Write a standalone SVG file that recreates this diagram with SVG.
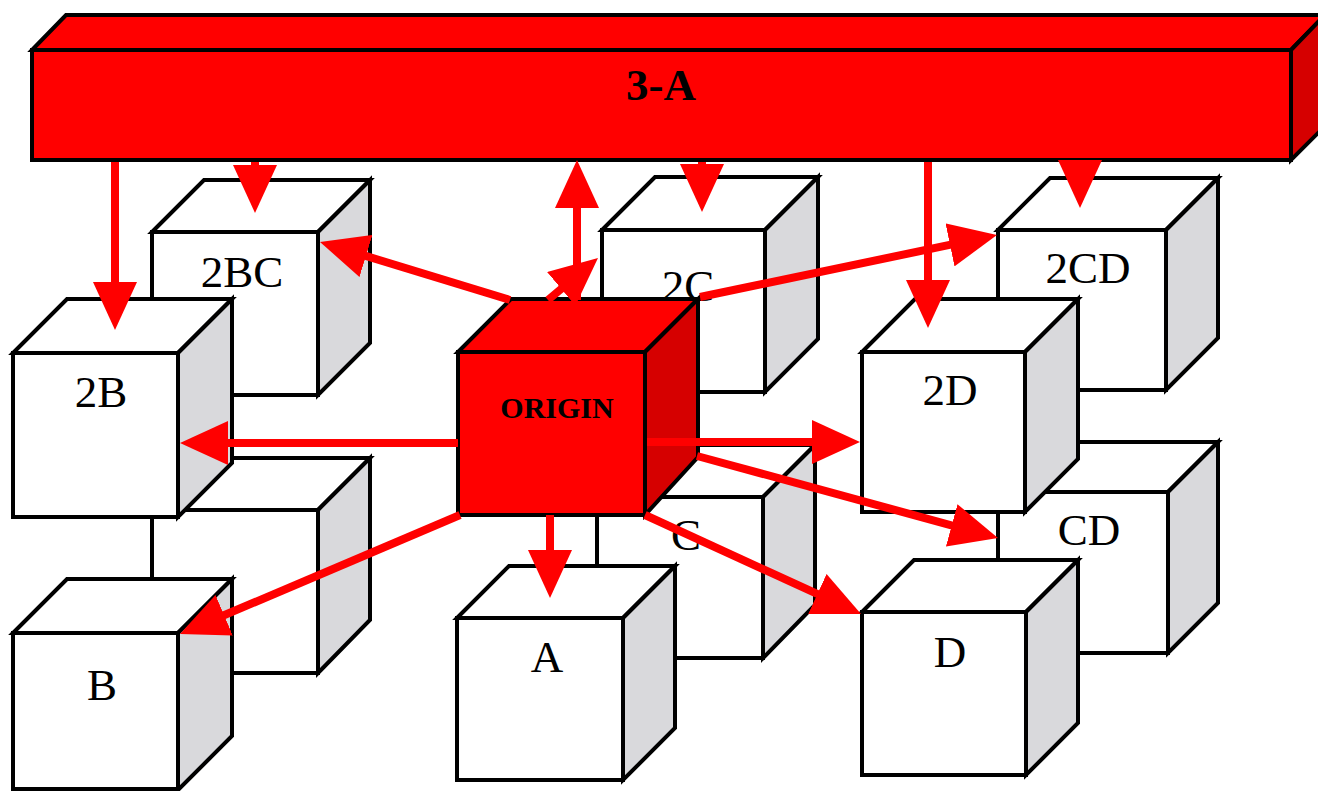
<svg xmlns="http://www.w3.org/2000/svg" width="1318" height="791" viewBox="0 0 1318 791">
<style>
.e{stroke:#000;stroke-width:4;stroke-linejoin:miter}
.wf{fill:#fff}
.gf{fill:#d9d9dc}
.rf{fill:#ff0000}
.rd{fill:#d60000}
.lbl{font-family:"Liberation Serif","Times New Roman",serif;font-size:45px;fill:#000;text-anchor:middle}
.bl{font-weight:bold}
.ar{stroke:#ff0000;stroke-width:8;fill:none;marker-end:url(#ah)}
</style>
<defs>
<marker id="ah" viewBox="0 0 48 44" refX="13" refY="22" markerWidth="48" markerHeight="44" markerUnits="userSpaceOnUse" orient="auto">
<path d="M0,0 L48,22 L0,44 z" fill="#ff0000"/>
</marker>
</defs>
<rect width="1318" height="791" fill="#fff"/>

<g id="bar-3A">
<polygon class="e rf" points="32,50 66,15 1325,15 1291,50"/>
<polygon class="e rd" points="1291,50 1325,15 1325,126 1291,160"/>
<rect class="e rf" x="32" y="50" width="1259" height="110"/>
<text class="lbl bl" x="661" y="100">3-A</text>
</g>

<g id="cube-2BC">
<polygon class="e wf" points="152,232 204,180 370,180 318,232"/>
<polygon class="e gf" points="318,232 370,180 370,343 318,395"/>
<rect class="e wf" x="152" y="232" width="166" height="163"/>
<text class="lbl" x="242" y="287">2BC</text>
</g>
<g id="cube-2C">
<polygon class="e wf" points="602,230 655,177 818,177 765,230"/>
<polygon class="e gf" points="765,230 818,177 818,339 765,392"/>
<rect class="e wf" x="602" y="230" width="163" height="162"/>
<text class="lbl" x="688" y="301">2C</text>
</g>
<g id="cube-2CD">
<polygon class="e wf" points="998,230 1050,178 1218,178 1166,230"/>
<polygon class="e gf" points="1166,230 1218,178 1218,338 1166,390"/>
<rect class="e wf" x="998" y="230" width="168" height="160"/>
<text class="lbl" x="1088" y="283">2CD</text>
</g>

<g id="cube-BC">
<polygon class="e wf" points="152,510 204,458 370,458 318,510"/>
<polygon class="e gf" points="318,510 370,458 370,620 318,673"/>
<rect class="e wf" x="152" y="510" width="166" height="163"/>
</g>
<g id="cube-C">
<polygon class="e wf" points="597,497 649,445 815,445 763,497"/>
<polygon class="e gf" points="763,497 815,445 815,605 763,658"/>
<rect class="e wf" x="597" y="497" width="166" height="161"/>
<text class="lbl" x="686" y="550">C</text>
</g>
<g id="cube-CD">
<polygon class="e wf" points="998,492 1048,442 1218,442 1168,492"/>
<polygon class="e gf" points="1168,492 1218,442 1218,603 1168,653"/>
<rect class="e wf" x="998" y="492" width="170" height="161"/>
<text class="lbl" x="1089" y="545">CD</text>
</g>

<g id="cube-2B">
<polygon class="e wf" points="13,353 67,299 232,299 178,353"/>
<polygon class="e gf" points="178,353 232,299 232,463 178,517"/>
<rect class="e wf" x="13" y="353" width="165" height="164"/>
<text class="lbl" x="101" y="407">2B</text>
</g>
<g id="cube-B">
<polygon class="e wf" points="13,633 67,579 232,579 178,633"/>
<polygon class="e gf" points="178,633 232,579 232,736 178,790"/>
<rect class="e wf" x="13" y="633" width="165" height="156"/>
<text class="lbl" x="102" y="700">B</text>
</g>
<g id="cube-ORIGIN">
<polygon class="e rf" points="458,352 511,299 698,299 645,352"/>
<polygon class="e rd" points="645,352 698,299 698,457 645,515"/>
<rect class="e rf" x="458" y="352" width="187" height="163"/>
<text class="lbl bl" x="557" y="418" style="font-size:30px">ORIGIN</text>
</g>
<g id="cube-A">
<polygon class="e wf" points="457,618 509,566 675,566 623,618"/>
<polygon class="e gf" points="623,618 675,566 675,728 623,780"/>
<rect class="e wf" x="457" y="618" width="166" height="162"/>
<text class="lbl" x="547" y="672">A</text>
</g>
<g id="cube-2D">
<polygon class="e wf" points="862,352 915,299 1078,299 1025,352"/>
<polygon class="e gf" points="1025,352 1078,299 1078,459 1025,512"/>
<rect class="e wf" x="862" y="352" width="163" height="160"/>
<text class="lbl" x="950" y="405">2D</text>
</g>
<g id="cube-D">
<polygon class="e wf" points="862,612 914,560 1078,560 1026,612"/>
<polygon class="e gf" points="1026,612 1078,560 1078,723 1026,775"/>
<rect class="e wf" x="862" y="612" width="164" height="163"/>
<text class="lbl" x="950" y="667">D</text>
</g>

<g id="connectors">
<line class="ar" x1="115" y1="162" x2="115" y2="295"/>
<line class="ar" x1="255" y1="162" x2="255" y2="178"/>
<line class="ar" x1="577" y1="300" x2="577" y2="195"/>
<line class="ar" x1="702" y1="162" x2="702" y2="177"/>
<line class="ar" x1="928" y1="162" x2="928" y2="293"/>
<line class="ar" x1="1080" y1="162" x2="1080" y2="173"/>
<line class="ar" x1="510" y1="300" x2="353.5" y2="252.2"/>
<line class="ar" x1="548" y1="300" x2="571.2" y2="280.5"/>
<line class="ar" x1="700" y1="297" x2="962.7" y2="242.2"/>
<line class="ar" x1="458" y1="443" x2="215" y2="443"/>
<line class="ar" x1="647" y1="442" x2="825" y2="442"/>
<line class="ar" x1="697" y1="456" x2="964.2" y2="528.8"/>
<line class="ar" x1="645" y1="515" x2="829.2" y2="599.4"/>
<line class="ar" x1="460" y1="515" x2="212.2" y2="620.3"/>
<line class="ar" x1="550" y1="515" x2="550" y2="563"/>
</g>
</svg>
